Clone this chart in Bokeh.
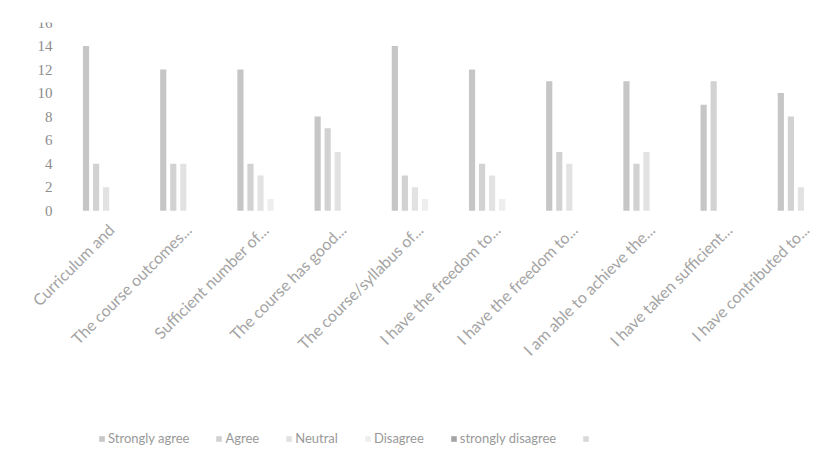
from bokeh.plotting import figure
from bokeh.models import ColumnDataSource, Range1d, FixedTicker, Legend, LegendItem
from bokeh.transform import dodge
from bokeh.embed import file_html
from bokeh.resources import INLINE

categories = [
    "Curriculum and",
    "The course outcomes...",
    "Sufficient number of...",
    "The course has good...",
    "The course/syllabus of...",
    "I have the freedom to...",
    "I have the freedom to...",
    "I am able to achieve the...",
    "I have taken sufficient...",
    "I have contributed to...",
]
series_names = ["Strongly agree", "Agree", "Neutral", "Disagree", "strongly disagree", " "]
strongly_agree = [14, 12, 12, 8, 14, 12, 11, 11, 9, 10]
agree = [4, 4, 4, 7, 3, 4, 5, 4, 11, 8]
neutral = [2, 4, 3, 5, 2, 3, 4, 5, 0, 2]
disagree = [0, 0, 1, 0, 1, 1, 0, 0, 0, 0]
strongly_disagree = [0, 0, 0, 0, 0, 0, 0, 0, 0, 0]
blank = [0, 0, 0, 0, 0, 0, 0, 0, 0, 0]
y_ticks = [0, 2, 4, 6, 8, 10, 12, 14, 16]

colors = ["#c6c6c6", "#d2d2d2", "#e2e2e2", "#eeeeee", "#a4a4a4", "#d9d9d9"]
values = [strongly_agree, agree, neutral, disagree, strongly_disagree, blank]
keys = ["sa", "a", "n", "d", "sd", "b"]

xs = list(range(len(categories)))
data = {"x": xs}
for k, v in zip(keys, values):
    data[k] = v
source = ColumnDataSource(data)

# frame extends left and below so that labels and legend sit inside it
p = figure(frame_width=794, frame_height=434, output_backend="svg", toolbar_location=None,
           x_range=Range1d(-1.148, 9.137), y_range=Range1d(-20.9, 16),
           min_border_left=22, min_border_right=0, min_border_top=22,
           min_border_bottom=0)
p.outline_line_color = None
p.background_fill_color = "white"
p.border_fill_color = "white"
p.xgrid.visible = False
p.ygrid.visible = False

step = 0.13
items = []
for i, (k, c, name) in enumerate(zip(keys, colors, series_names)):
    off = -0.325 + step * i
    r = p.vbar(x=dodge("x", off, range=p.x_range), top=k, width=0.08, bottom=0,
               source=source, fill_color=c, line_color=None)
    items.append(LegendItem(label=name, renderers=[r]))

p.xaxis.fixed_location = 0
p.xaxis.ticker = FixedTicker(ticks=xs)
p.xaxis.major_label_overrides = {i: lab for i, lab in enumerate(categories)}
p.xaxis.major_label_orientation = 0.785
p.xaxis.axis_line_color = None
p.xaxis.major_tick_line_color = None
p.xaxis.minor_tick_line_color = None
p.xaxis.major_label_text_font = "Lato"
p.xaxis.major_label_text_font_size = "16px"
p.xaxis.major_label_text_color = "#a4a4a4"
p.xaxis.major_label_standoff = 10

p.yaxis.fixed_location = -0.63
p.yaxis.ticker = FixedTicker(ticks=y_ticks)
p.yaxis.axis_line_color = None
p.yaxis.major_tick_line_color = None
p.yaxis.minor_tick_line_color = None
p.yaxis.major_label_text_font = "Liberation Serif"
p.yaxis.major_label_text_font_size = "15px"
p.yaxis.major_label_text_color = "#8c8c8c"
p.yaxis.major_label_standoff = 4

legend = Legend(items=items, orientation="horizontal", location=(76, 10),
                glyph_width=7, glyph_height=7, label_standoff=3, spacing=26,
                label_text_font="Lato", label_text_font_size="13px",
                label_text_color="#999999", border_line_color=None,
                background_fill_alpha=0, margin=0, padding=2)
p.add_layout(legend, "center")

open("out.html", "w").write(file_html(p, INLINE))
